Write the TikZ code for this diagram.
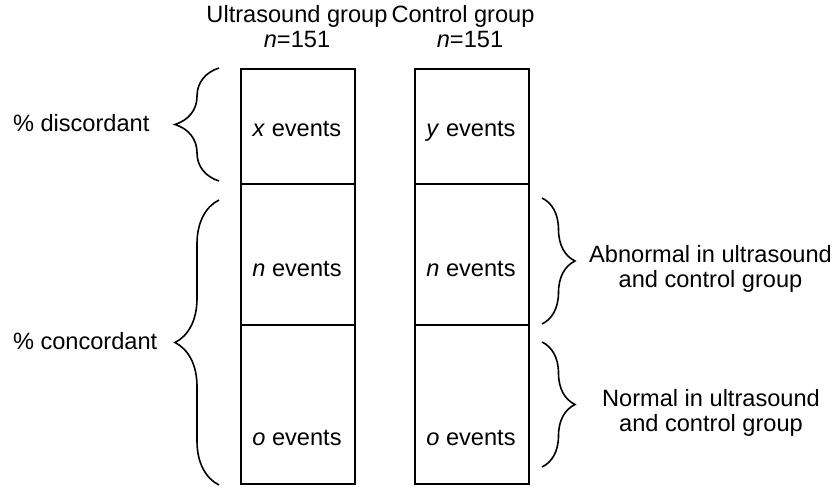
\documentclass[tikz,border=0pt]{standalone}
\usepackage{fontspec}
\setmainfont{Liberation Sans}
\usetikzlibrary{decorations.pathreplacing}
\begin{document}
\begin{tikzpicture}[x=1pt,y=-1pt,
  every node/.style={inner sep=0pt, outer sep=0pt},
  cell/.style={draw, line width=2pt, rectangle},
  txt/.style={anchor=base, font=\fontsize{23.6}{25}\selectfont},
  bigbrace/.style={decorate, line width=1.6pt,
    decoration={brace, amplitude=44pt}},
  smallbrace/.style={decorate, line width=1.6pt,
    decoration={brace, amplitude=33pt}}]
\useasboundingbox (0,0) rectangle (839,487);

% two columns of three stacked cells
\node[cell, minimum width=114pt, minimum height=115pt] (u1) at (297.5,126.5) {};
\node[cell, minimum width=114pt, minimum height=141pt] (u2) at (297.5,254.5) {};
\node[cell, minimum width=114pt, minimum height=159pt] (u3) at (297.5,404.5) {};
\node[cell, minimum width=114pt, minimum height=115pt] (c1) at (471.5,126.5) {};
\node[cell, minimum width=114pt, minimum height=141pt] (c2) at (471.5,254.5) {};
\node[cell, minimum width=114pt, minimum height=159pt] (c3) at (471.5,404.5) {};

% column headings
\node[txt] (uh1) at (297,23) {Ultrasound group};
\node[txt] (uh2) at (297,48) {\textit{n}=151};
\node[txt] (ch1) at (463,23) {Control group};
\node[txt] (ch2) at (470,48) {\textit{n}=151};

% cell contents
\node[txt] (ux) at (297,136.7) {\textit{x} events};
\node[txt] (un) at (297,276.7) {\textit{n} events};
\node[txt] (uo) at (297,445.7) {\textit{o} events};
\node[txt] (cy) at (471,136.7) {\textit{y} events};
\node[txt] (cn) at (471,276.7) {\textit{n} events};
\node[txt] (co) at (471,445.7) {\textit{o} events};

% brace end points
\coordinate (dTop) at (219,68);
\coordinate (dBot) at (219,181);
\coordinate (kTop) at (219,200);
\coordinate (kBot) at (219,485);
\coordinate (aTop) at (542,198);
\coordinate (aBot) at (542,324);
\coordinate (nTop) at (542,342);
\coordinate (nBot) at (542,467);

% braces
\draw[bigbrace] (dBot) -- (dTop);
\draw[bigbrace] (kBot) -- (kTop);
\draw[smallbrace] (aTop) -- (aBot);
\draw[smallbrace] (nTop) -- (nBot);

% brace labels
\node[txt, anchor=base west] (disc) at (13,131.7) {\% discordant};
\node[txt, anchor=base west] (conc) at (13,349.7) {\% concordant};
\node[txt] (ab1) at (710.5,262) {Abnormal in ultrasound};
\node[txt] (ab2) at (710.5,287) {and control group};
\node[txt] (no1) at (711,406.7) {Normal in ultrasound};
\node[txt] (no2) at (711,431.7) {and control group};
\end{tikzpicture}
\end{document}
